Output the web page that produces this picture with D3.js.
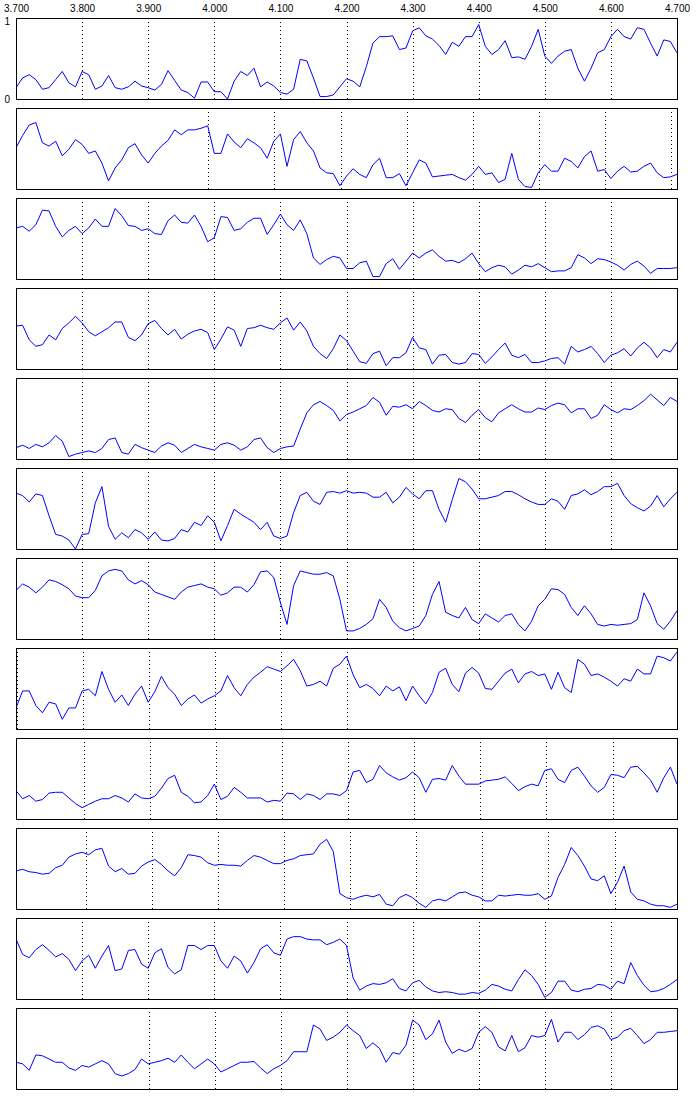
<!DOCTYPE html>
<html><head><meta charset="utf-8">
<script src="https://cdn.jsdelivr.net/npm/d3@7"></script>
<style>body{margin:0;background:#fff}svg{display:block}</style>
</head><body>
<script>
// x-axis tick labels (top of first panel)
const topTicks = [3.7,3.8,3.9,4.0,4.1,4.2,4.3,4.4,4.5,4.6,4.7];
// start of the x window of each panel (window width 1.0)
const panelStart = [3.700,3.709,3.700,3.700,3.700,3.700,3.700,3.699,3.6975,3.6945,3.700,3.6995];
// dotted grid lines shown in each panel
const gridTicks = [
  [3.8,3.9,4.0,4.1,4.2,4.3,4.4,4.5,4.6],
  [4.0,4.1,4.2,4.3,4.4,4.5,4.6,4.7],
  [3.8,3.9,4.0,4.1,4.2,4.3,4.4,4.5,4.6],
  [3.8,3.9,4.0,4.1,4.2,4.3,4.4,4.5,4.6],
  [3.8,3.9,4.0,4.1,4.2,4.3,4.4,4.5,4.6],
  [3.8,3.9,4.0,4.1,4.2,4.3,4.4,4.5,4.6],
  [3.8,3.9,4.0,4.1,4.2,4.3,4.4],
  [3.7,3.8,3.9,4.0,4.1,4.2],
  [3.8,3.9,4.0,4.1,4.2,4.3,4.4,4.5,4.6],
  [3.8,3.9,4.0,4.1,4.2,4.3,4.4,4.5,4.6],
  [3.8,3.9,4.0,4.1,4.2,4.3,4.4,4.5,4.6],
  [3.9,4.0,4.1,4.2,4.3,4.4,4.5,4.6]
];
const yTicks = [0,1];
const sampleStep = 0.01;

// series values (0..1), one sample every 0.01
const s01 = [0.14,0.26,0.30,0.24,0.12,0.14,0.24,0.34,0.20,0.15,0.34,0.30,0.12,0.16,0.29,0.14,0.12,0.15,0.22,0.16,
0.14,0.11,0.18,0.35,0.23,0.11,0.08,0.01,0.21,0.21,0.09,0.09,0.00,0.22,0.34,0.29,0.38,0.15,0.21,0.16,
0.08,0.06,0.12,0.49,0.47,0.26,0.03,0.03,0.05,0.15,0.25,0.22,0.15,0.40,0.69,0.77,0.77,0.78,0.61,0.63,
0.84,0.88,0.78,0.74,0.66,0.55,0.70,0.65,0.77,0.77,0.92,0.65,0.55,0.61,0.72,0.51,0.52,0.49,0.65,0.86,
0.53,0.44,0.53,0.59,0.61,0.38,0.22,0.38,0.57,0.61,0.77,0.86,0.77,0.74,0.88,0.86,0.69,0.53,0.73,0.71,0.57];
const s02 = [0.51,0.66,0.79,0.82,0.57,0.53,0.59,0.41,0.49,0.61,0.55,0.44,0.47,0.32,0.10,0.26,0.36,0.51,0.56,0.42,
0.32,0.44,0.53,0.60,0.73,0.67,0.73,0.73,0.75,0.78,0.44,0.44,0.68,0.58,0.51,0.62,0.57,0.51,0.38,0.59,
0.68,0.28,0.61,0.71,0.57,0.47,0.26,0.20,0.19,0.04,0.16,0.25,0.18,0.14,0.30,0.38,0.14,0.14,0.19,0.04,
0.20,0.36,0.32,0.15,0.16,0.17,0.18,0.14,0.11,0.18,0.28,0.18,0.20,0.08,0.12,0.44,0.12,0.03,0.02,0.20,
0.30,0.22,0.22,0.38,0.34,0.26,0.40,0.47,0.22,0.24,0.13,0.22,0.28,0.21,0.22,0.28,0.32,0.20,0.14,0.15,0.18];
const s03 = [0.63,0.65,0.59,0.67,0.85,0.84,0.65,0.52,0.60,0.65,0.56,0.63,0.74,0.65,0.65,0.87,0.78,0.66,0.65,0.60,
0.62,0.56,0.55,0.72,0.79,0.70,0.69,0.79,0.65,0.46,0.51,0.77,0.76,0.60,0.62,0.70,0.75,0.75,0.55,0.67,
0.80,0.67,0.60,0.73,0.56,0.26,0.18,0.24,0.28,0.26,0.13,0.13,0.20,0.22,0.03,0.03,0.19,0.25,0.12,0.22,
0.32,0.26,0.32,0.36,0.28,0.22,0.23,0.20,0.25,0.32,0.19,0.09,0.14,0.17,0.15,0.06,0.11,0.17,0.15,0.19,
0.14,0.09,0.10,0.10,0.14,0.30,0.26,0.19,0.25,0.24,0.21,0.17,0.11,0.18,0.22,0.16,0.07,0.13,0.13,0.13,0.14];
const s04 = [0.53,0.54,0.36,0.28,0.30,0.42,0.36,0.50,0.57,0.65,0.57,0.46,0.41,0.46,0.51,0.58,0.58,0.39,0.35,0.42,
0.56,0.60,0.50,0.42,0.49,0.37,0.43,0.47,0.49,0.45,0.24,0.37,0.52,0.48,0.28,0.50,0.51,0.54,0.51,0.49,
0.57,0.63,0.48,0.58,0.47,0.28,0.19,0.13,0.25,0.42,0.35,0.22,0.09,0.07,0.19,0.22,0.04,0.14,0.14,0.20,
0.39,0.26,0.24,0.06,0.17,0.18,0.08,0.06,0.08,0.19,0.18,0.07,0.15,0.24,0.32,0.17,0.14,0.18,0.08,0.08,
0.10,0.13,0.14,0.06,0.28,0.21,0.24,0.28,0.19,0.08,0.17,0.20,0.25,0.16,0.26,0.33,0.26,0.14,0.24,0.21,0.33];
const s05 = [0.14,0.17,0.13,0.18,0.15,0.20,0.29,0.22,0.03,0.06,0.08,0.10,0.08,0.13,0.24,0.26,0.08,0.06,0.18,0.14,
0.11,0.08,0.16,0.20,0.17,0.08,0.13,0.18,0.15,0.13,0.11,0.18,0.20,0.17,0.11,0.15,0.24,0.26,0.14,0.08,
0.13,0.15,0.16,0.37,0.57,0.67,0.71,0.66,0.60,0.47,0.55,0.58,0.62,0.66,0.76,0.70,0.54,0.65,0.64,0.67,
0.62,0.71,0.66,0.60,0.58,0.62,0.61,0.50,0.45,0.54,0.61,0.51,0.46,0.57,0.62,0.67,0.62,0.58,0.58,0.63,
0.61,0.66,0.69,0.67,0.57,0.62,0.62,0.50,0.54,0.67,0.61,0.57,0.62,0.61,0.66,0.72,0.80,0.73,0.66,0.76,0.71];
const s06 = [0.69,0.66,0.58,0.68,0.66,0.41,0.18,0.16,0.11,0.00,0.18,0.19,0.57,0.77,0.28,0.12,0.20,0.14,0.24,0.20,
0.12,0.21,0.11,0.10,0.13,0.24,0.21,0.33,0.29,0.41,0.33,0.10,0.29,0.49,0.43,0.38,0.33,0.24,0.33,0.16,
0.13,0.16,0.45,0.66,0.70,0.59,0.55,0.70,0.71,0.69,0.72,0.69,0.70,0.69,0.64,0.64,0.70,0.57,0.64,0.76,
0.68,0.62,0.72,0.72,0.49,0.33,0.61,0.87,0.83,0.74,0.62,0.62,0.64,0.66,0.71,0.71,0.67,0.62,0.58,0.55,
0.55,0.62,0.59,0.49,0.66,0.68,0.73,0.67,0.71,0.77,0.77,0.81,0.66,0.56,0.51,0.47,0.53,0.66,0.52,0.62,0.70];
const s07 = [0.60,0.68,0.64,0.57,0.64,0.73,0.71,0.67,0.62,0.53,0.51,0.51,0.60,0.78,0.84,0.86,0.84,0.73,0.68,0.72,
0.67,0.58,0.55,0.52,0.49,0.58,0.64,0.66,0.68,0.64,0.62,0.54,0.57,0.64,0.64,0.58,0.67,0.83,0.84,0.76,
0.45,0.18,0.66,0.84,0.82,0.80,0.80,0.82,0.78,0.49,0.10,0.10,0.13,0.18,0.25,0.49,0.39,0.22,0.14,0.10,
0.13,0.16,0.29,0.55,0.71,0.33,0.29,0.26,0.39,0.24,0.19,0.31,0.26,0.21,0.29,0.31,0.18,0.10,0.22,0.41,
0.49,0.62,0.61,0.55,0.39,0.29,0.41,0.31,0.18,0.16,0.18,0.17,0.18,0.19,0.24,0.57,0.41,0.19,0.12,0.22,0.35];
const s08 = [0.26,0.47,0.47,0.29,0.20,0.33,0.31,0.12,0.26,0.26,0.47,0.49,0.41,0.71,0.49,0.33,0.42,0.29,0.43,0.53,
0.33,0.46,0.65,0.51,0.43,0.29,0.37,0.42,0.32,0.37,0.41,0.47,0.66,0.51,0.41,0.55,0.64,0.70,0.77,0.74,
0.71,0.78,0.86,0.72,0.53,0.55,0.59,0.53,0.75,0.80,0.90,0.67,0.51,0.55,0.50,0.41,0.53,0.47,0.52,0.35,
0.53,0.41,0.31,0.45,0.70,0.75,0.55,0.46,0.69,0.76,0.69,0.50,0.49,0.59,0.69,0.74,0.57,0.68,0.71,0.66,
0.68,0.49,0.70,0.51,0.45,0.86,0.80,0.66,0.68,0.64,0.59,0.53,0.62,0.59,0.74,0.68,0.68,0.90,0.88,0.84,0.95];
const s09 = [0.35,0.25,0.29,0.22,0.24,0.32,0.33,0.33,0.26,0.19,0.14,0.18,0.22,0.25,0.25,0.29,0.26,0.21,0.31,0.26,
0.25,0.28,0.38,0.50,0.54,0.33,0.28,0.20,0.21,0.29,0.43,0.24,0.28,0.39,0.33,0.26,0.26,0.26,0.21,0.23,
0.22,0.32,0.31,0.24,0.31,0.29,0.24,0.31,0.31,0.29,0.35,0.58,0.60,0.45,0.49,0.66,0.57,0.52,0.48,0.51,
0.58,0.51,0.33,0.49,0.50,0.48,0.66,0.53,0.43,0.43,0.43,0.47,0.48,0.49,0.52,0.44,0.35,0.40,0.43,0.41,
0.60,0.62,0.49,0.45,0.60,0.64,0.53,0.41,0.33,0.39,0.55,0.54,0.51,0.64,0.65,0.57,0.48,0.33,0.51,0.64,0.43];
const s10 = [0.47,0.49,0.46,0.45,0.43,0.44,0.51,0.54,0.64,0.68,0.70,0.67,0.73,0.75,0.53,0.46,0.50,0.43,0.44,0.53,
0.58,0.61,0.55,0.47,0.41,0.51,0.67,0.66,0.64,0.57,0.54,0.55,0.54,0.54,0.53,0.60,0.66,0.64,0.60,0.56,
0.56,0.60,0.62,0.66,0.67,0.68,0.80,0.86,0.71,0.19,0.14,0.12,0.15,0.17,0.15,0.18,0.06,0.04,0.14,0.18,
0.14,0.07,0.02,0.10,0.12,0.10,0.15,0.20,0.21,0.17,0.15,0.10,0.10,0.17,0.16,0.17,0.18,0.17,0.17,0.19,
0.12,0.16,0.39,0.55,0.76,0.66,0.53,0.37,0.35,0.41,0.19,0.33,0.53,0.21,0.12,0.10,0.06,0.04,0.04,0.02,0.06];
const s11 = [0.74,0.55,0.51,0.61,0.67,0.60,0.52,0.56,0.49,0.35,0.47,0.54,0.38,0.53,0.66,0.35,0.37,0.60,0.61,0.43,
0.38,0.57,0.62,0.39,0.31,0.36,0.66,0.66,0.61,0.66,0.66,0.47,0.38,0.53,0.47,0.32,0.45,0.62,0.67,0.57,
0.54,0.74,0.77,0.77,0.74,0.73,0.73,0.67,0.70,0.74,0.66,0.26,0.11,0.16,0.19,0.18,0.20,0.25,0.13,0.10,
0.20,0.23,0.15,0.10,0.08,0.09,0.08,0.06,0.06,0.08,0.07,0.11,0.18,0.16,0.12,0.10,0.24,0.36,0.29,0.18,
0.02,0.08,0.22,0.22,0.11,0.09,0.12,0.13,0.18,0.17,0.12,0.22,0.19,0.45,0.29,0.17,0.09,0.10,0.13,0.18,0.24];
const s12 = [0.33,0.31,0.23,0.42,0.41,0.37,0.33,0.33,0.26,0.23,0.29,0.27,0.31,0.35,0.31,0.19,0.16,0.19,0.24,0.37,
0.31,0.33,0.35,0.38,0.33,0.42,0.33,0.25,0.31,0.37,0.31,0.21,0.25,0.29,0.33,0.33,0.34,0.26,0.19,0.25,
0.29,0.35,0.46,0.46,0.46,0.79,0.74,0.60,0.64,0.70,0.79,0.72,0.66,0.50,0.57,0.50,0.33,0.45,0.43,0.54,
0.85,0.79,0.61,0.68,0.85,0.58,0.44,0.49,0.46,0.50,0.70,0.77,0.70,0.52,0.47,0.66,0.46,0.51,0.66,0.64,
0.66,0.86,0.58,0.70,0.70,0.61,0.67,0.76,0.78,0.74,0.61,0.64,0.72,0.75,0.66,0.56,0.61,0.70,0.70,0.71,0.72];

const seriesList = [s01,s02,s03,s04,s05,s06,s07,s08,s09,s10,s11,s12];

const W = 697, H = 1117;
const left = 16, plotW = 661, firstTop = 18, plotH = 81, gap = 90;
const FONT = "'Liberation Sans', Arial, sans-serif";

const svg = d3.select("body").append("svg").attr("width", W).attr("height", H)
  .style("font-family", FONT);

seriesList.forEach((vals, k) => {
  const top = firstTop + k * gap;
  const start = panelStart[k];
  const x = d3.scaleLinear().domain([start, start + 1]).range([left, left + plotW]);
  const y = d3.scaleLinear().domain([0, 1]).range([top + plotH, top]);
  const g = svg.append("g");

  const clipId = "clip" + k;
  svg.append("clipPath").attr("id", clipId).append("rect")
    .attr("x", left).attr("y", top).attr("width", plotW).attr("height", plotH + 1);

  // grid lines
  g.selectAll("line.grid").data(gridTicks[k]).join("line")
    .attr("class", "grid")
    .attr("x1", d => Math.round(x(d)) + 0.5).attr("x2", d => Math.round(x(d)) + 0.5)
    .attr("y1", top).attr("y2", top + plotH)
    .attr("stroke", "#000").attr("stroke-width", 1).attr("stroke-dasharray", "1,3");

  // series
  const line = d3.line().x((d, i) => x(start + i * sampleStep)).y(d => y(d));
  g.append("path").datum(vals)
    .attr("clip-path", `url(#${clipId})`)
    .attr("d", line).attr("fill", "none").attr("stroke", "#0000ff").attr("stroke-width", 1);

  // frame
  g.append("rect").attr("x", left + 0.5).attr("y", top + 0.5)
    .attr("width", plotW).attr("height", plotH)
    .attr("fill", "none").attr("stroke", "#000").attr("stroke-width", 1);

  if (k === 0) {
    const xa = d3.axisTop(x).tickValues(topTicks).tickFormat(d3.format(".3f")).tickSize(0).tickPadding(6.5);
    const ax = svg.append("g").attr("transform", `translate(0,${top})`).call(xa);
    ax.select(".domain").remove();
    ax.selectAll("text").attr("font-size", 10).attr("fill", "#000").style("font-family", FONT);
    const ya = d3.axisLeft(y).tickValues(yTicks).tickFormat(d3.format("d")).tickSize(0).tickPadding(6);
    const ay = svg.append("g").attr("transform", `translate(${left},0)`).call(ya);
    ay.select(".domain").remove();
    ay.selectAll("text").attr("font-size", 10).attr("fill", "#000").style("font-family", FONT)
      .attr("dy", d => d === 1 ? "0.62em" : "0.32em");
  }
});
</script>
</body></html>
